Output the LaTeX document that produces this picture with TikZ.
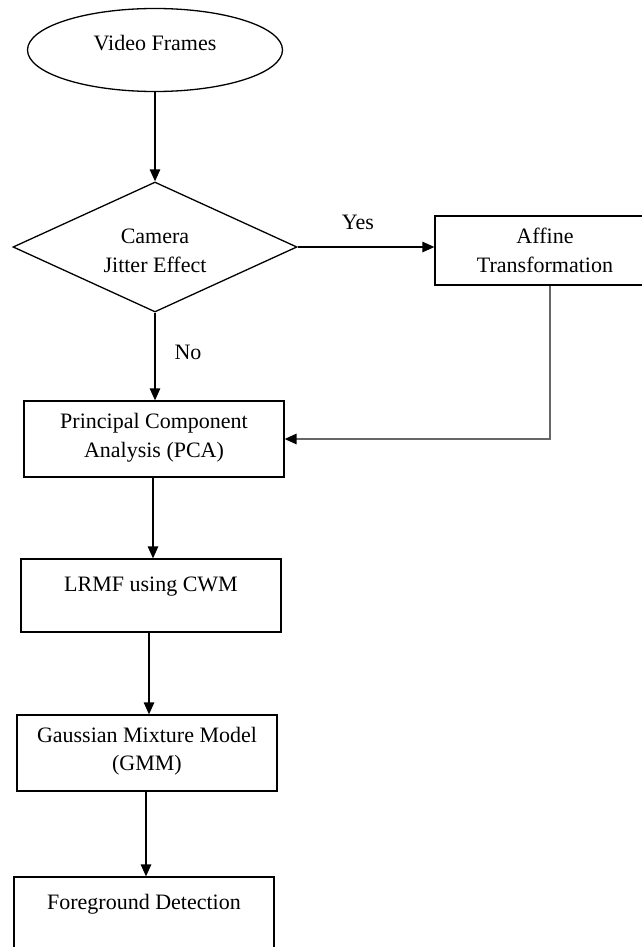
\documentclass[tikz,border=0pt]{standalone}
\usepackage{fontspec}
\setmainfont{Liberation Serif}
\usetikzlibrary{shapes.geometric,arrows.meta,calc}
\begin{document}
\begin{tikzpicture}[x=1pt,y=-1pt,
  every node/.style={font=\fontsize{22}{28.5}\selectfont},
  shapebox/.style={draw,line width=1.3pt,rectangle,minimum width=260pt,inner sep=0pt},
  txt/.style={align=center,inner sep=0pt},
  conn/.style={line width=1.3pt,-{Triangle[length=12pt,width=10.5pt]}},
  graylink/.style={line width=1.6pt,draw=black!60,-{Triangle[length=12pt,width=10.5pt,fill=black,color=black]}}]
\useasboundingbox (0,0) rectangle (641,947);
% shapes
\node (vf) [draw,line width=1.3pt,ellipse,minimum width=255pt,minimum height=83pt,inner sep=0pt] at (155,50) {};
\node[txt] (vft) at (155,43) {Video Frames};
\node (cj) [draw,line width=1.3pt,diamond,minimum width=284pt,minimum height=130pt,inner sep=0pt,aspect=2.18] at (155,247) {};
\node[txt] (cjt) at (155,251) {Camera\\Jitter Effect};
\node (af) [shapebox,minimum width=220pt,minimum height=69pt] at (545,250.5) {};
\node[txt] (aft) at (545,250.5) {Affine\\Transformation};
\node (pca) [shapebox,minimum height=76pt] at (154,439) {};
\node[txt] (pcat) at (154,437.5) {Principal Component\\Analysis (PCA)};
\node (lr) [shapebox,minimum height=73pt] at (151,595.5) {};
\node[txt] (lrt) at (151,587) {LRMF using CWM};
\node (gmm) [shapebox,minimum height=76pt] at (147,753) {};
\node[txt] (gmmt) at (147,751) {Gaussian Mixture Model\\(GMM)};
\node (fg) [shapebox,minimum height=76pt] at (144,915) {};
\node[txt] (fgt) at (144,904) {Foreground Detection};
% labels
\node[txt] (yes) at (358,222) {Yes};
\node[txt] (no) at (188,352) {No};
% connectors
\draw[conn] (vf.south) -- (cj.north);
\draw[conn] (cj.east) -- (cj.east -| af.west);
\draw[conn] (cj.south) -- (cj.south |- pca.north);
\draw[graylink] ([xshift=5pt]af.south) |- (pca.east);
\draw[conn] ([xshift=-1pt]pca.south) -- ([xshift=-1pt]pca.south |- lr.north);
\draw[conn] ([xshift=-2pt]lr.south) -- ([xshift=-2pt]lr.south |- gmm.north);
\draw[conn] ([xshift=-1pt]gmm.south) -- ([xshift=-1pt]gmm.south |- fg.north);
\end{tikzpicture}
\end{document}
